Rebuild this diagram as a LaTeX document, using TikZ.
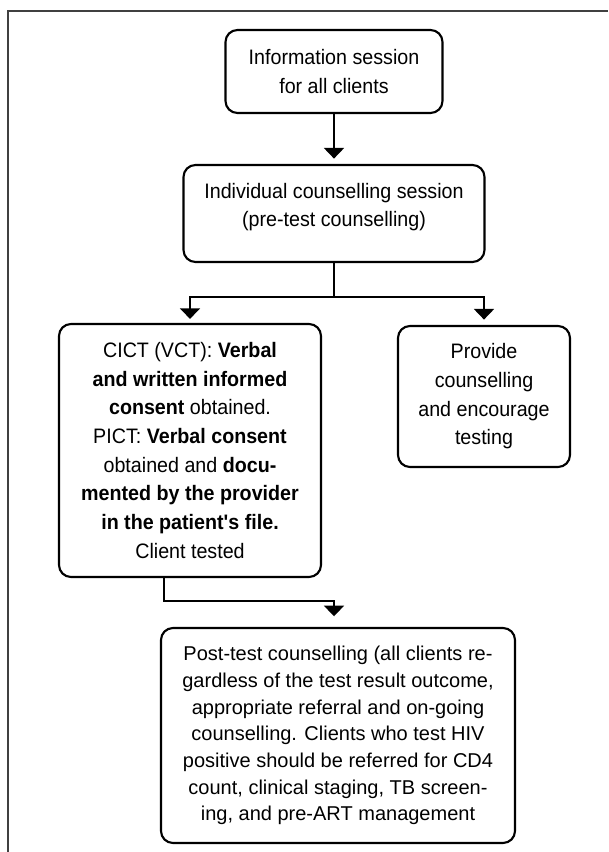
\documentclass[tikz,border=0pt]{standalone}
\usepackage{fontspec}
\setmainfont{Liberation Sans}
\newfontfamily\narrowsans[FakeStretch=0.94]{Liberation Sans}
\usetikzlibrary{arrows.meta}

\begin{document}
\begin{tikzpicture}[x=0.75pt, y=-0.75pt, >={Triangle[width=15pt,length=8pt]}]

    % styles
    \tikzstyle{stage}=[draw, line width=1.6pt, rounded corners=9pt, align=center, inner sep=0pt, font=\narrowsans\fontsize{15.7pt}{21.5pt}\selectfont]
    \tikzstyle{flow}=[->, line width=1.5pt]
    \tikzstyle{plain}=[line width=1.5pt]

    \useasboundingbox (0,0) rectangle (608,852);

    % outer frame (top and left edge only)
    \draw[black!75, line width=0.9pt] (8,852) -- (8,11) -- (608,11);

    %======================= PRE-TEST =======================
    \node[stage, minimum width=162.75pt, minimum height=62.25pt] (info) at (334,71.5)
      {Information session\\for all clients};
    \node[stage, minimum width=225.75pt, minimum height=72.75pt] (indiv) at (334,213.5)
      {Individual counselling session\\(pre-test counselling)\\[-8.5pt]\mbox{}};

    %======================= CONSENT =======================
    \node[stage, minimum width=196.5pt, minimum height=189.75pt] (cict) at (190,450.5)
      {CICT (VCT): \textbf{Verbal}\\
       \textbf{and written informed}\\
       \textbf{consent} obtained.\\
       PICT: \textbf{Verbal consent}\\
       obtained and \textbf{docu-}\\
       \textbf{mented by the provider}\\
       \textbf{in the patient's file.}\\
       Client tested};
    \node[stage, minimum width=129pt, minimum height=105.75pt] (provide) at (484,396.5)
      {Provide\\counselling\\and encourage\\testing};

    %======================= POST-TEST =======================
    \node[stage, minimum width=265.5pt, minimum height=161.25pt,
          font=\fontsize{15pt}{20pt}\selectfont] (post) at (338,735.5)
      {Post-test counselling (all clients re-\\
       gardless of the test result outcome,\\
       appropriate referral and on-going\\
       counselling. Clients who test HIV\\
       positive should be referred for CD4\\
       count, clinical staging, TB screen-\\
       ing, and pre-ART management};

    % junction points
    \coordinate (split) at (334,297);
    \coordinate (bend) at (164,601);

    % connectors
    \draw[flow, shorten >=4pt] (info) -- (indiv);
    \draw[plain] (indiv.south) -- (split);
    \draw[flow, shorten >=3pt] (split) -| (cict);
    \draw[flow, shorten >=4pt] (split) -| (provide);
    \draw[flow, shorten >=8pt] (cict.south -| bend) -- (bend) -| (post.north -| split);

\end{tikzpicture}
\end{document}
